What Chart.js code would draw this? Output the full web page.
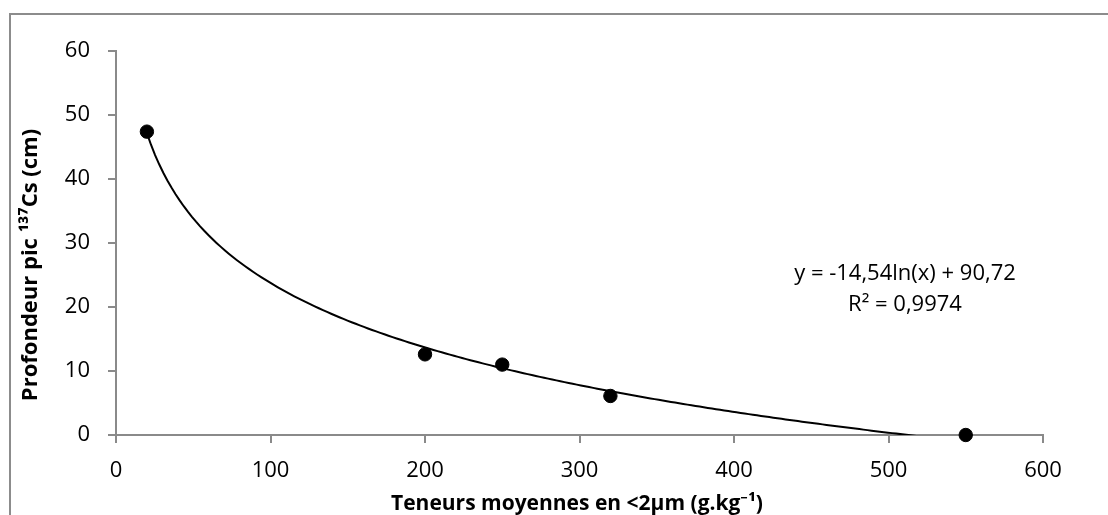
<!DOCTYPE html>
<html>
<head>
<meta charset="utf-8">
<script src="https://cdn.jsdelivr.net/npm/chart.js@4"></script>
<style>
  html, body { margin: 0; padding: 0; background: #fff; }
  #wrap { width: 1108px; height: 515px; }
</style>
</head>
<body>
<div id="wrap"><canvas id="c" width="1108" height="515"></canvas></div>
<script>
// Measured clay content (g/kg) and depth of the 137Cs peak (cm)
const clayContent = [20, 200, 250, 320, 550];
const peakDepth = [47.4, 12.6, 11.0, 6.1, 0.0];

// Logarithmic fit y = a ln(x) + b, as printed on the chart
const fitA = -14.54;
const fitB = 90.72;
const fitLabel = 'y = -14,54ln(x) + 90,72';
const r2Label = 'R² = 0,9974';

const xTicks = [0, 100, 200, 300, 400, 500, 600];
const yTicks = [0, 10, 20, 30, 40, 50, 60];

const xTitle = 'Teneurs moyennes en <2µm (g.kg⁻¹)';
const yTitle = 'Profondeur pic ¹³⁷Cs (cm)';

// Trend curve sampled across the measured range
const trendPts = [];
const xFrom = Math.min(...clayContent), xTo = Math.max(...clayContent);
for (let i = 0; i <= 200; i++) {
  const x = xFrom + (xTo - xFrom) * i / 200;
  trendPts.push({ x: x, y: fitA * Math.log(x) + fitB });
}

const FONT = "'Open Sans', 'Noto Sans', sans-serif";
const AXIS = '#8a8a8a';

const frame = {
  id: 'frame',
  beforeDraw(chart) {
    const ctx = chart.ctx;
    ctx.save();
    ctx.strokeStyle = '#8c8c8c';
    ctx.lineWidth = 2;
    ctx.strokeRect(10, 14, 1200, 600);
    ctx.restore();
  },
  afterDraw(chart) {
    const ctx = chart.ctx;
    ctx.save();
    ctx.fillStyle = '#000';
    ctx.textAlign = 'center';
    ctx.textBaseline = 'middle';
    // axis titles
    ctx.font = "bold 21px " + FONT;
    ctx.fillText(xTitle, 577, 504);
    ctx.font = "bold 22px " + FONT;
    ctx.save();
    ctx.translate(31, 265);
    ctx.rotate(-Math.PI / 2);
    ctx.fillText(yTitle, 0, 0);
    ctx.restore();
    // equation label
    ctx.font = "22px " + FONT;
    ctx.fillText(fitLabel, 905, 274);
    ctx.fillText(r2Label, 905, 305);
    ctx.restore();
  }
};

new Chart(document.getElementById('c'), {
  type: 'scatter',
  data: {
    datasets: [
      {
        type: 'line',
        data: trendPts,
        borderColor: '#000',
        borderWidth: 2,
        pointRadius: 0,
        fill: false,
        tension: 0,
        order: 2
      },
      {
        data: clayContent.map((x, i) => ({ x: x, y: peakDepth[i] })),
        backgroundColor: '#000',
        borderColor: '#000',
        pointRadius: 6.7,
        pointHoverRadius: 6.7,
        order: 1,
        clip: false
      }
    ]
  },
  options: {
    responsive: false,
    animation: false,
    events: [],
    layout: { padding: { top: 51, right: 65, left: 0, bottom: 0 } },
    plugins: { legend: { display: false }, tooltip: { enabled: false } },
    scales: {
      x: {
        type: 'linear',
        min: 0, max: 600,
        afterBuildTicks(s) { s.ticks = xTicks.map(v => ({ value: v })); },
        afterFit(s) { s.height = 80; },
        border: { color: AXIS, width: 2 },
        grid: { drawOnChartArea: false, color: AXIS, lineWidth: 2, tickLength: 8 },
        ticks: { color: '#000', font: { family: FONT, size: 22 }, padding: 15, maxRotation: 0 }
      },
      y: {
        type: 'linear',
        min: 0, max: 60,
        afterBuildTicks(s) { s.ticks = yTicks.map(v => ({ value: v })); },
        afterFit(s) { s.width = 116; },
        border: { color: AXIS, width: 2 },
        grid: { drawOnChartArea: false, color: AXIS, lineWidth: 2, tickLength: 8 },
        ticks: { color: '#000', font: { family: FONT, size: 22 }, padding: 18 }
      }
    }
  },
  plugins: [frame]
});
</script>
</body>
</html>
